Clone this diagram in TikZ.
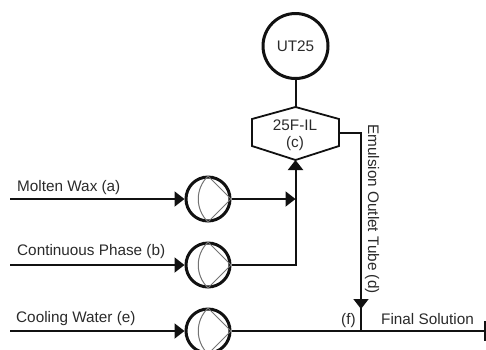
\documentclass[tikz,border=0pt]{standalone}
\usepackage{fontspec}
\setmainfont{Liberation Sans}
\usetikzlibrary{arrows.meta}
\definecolor{ink}{HTML}{111111}
\definecolor{txt}{HTML}{2A2A2A}
\tikzset{
  x=1pt,y=-1pt,
  flow/.style={line width=2pt,draw=ink},
  thin flow/.style={line width=1.6pt,draw=ink},
  head/.style={-{Triangle[length=10pt,width=15pt]}},
  pumpbody/.style={circle,draw=ink,line width=3pt,minimum size=44pt,inner sep=0pt},
  vessel/.style={circle,draw=ink,line width=3pt,minimum size=65pt,inner sep=0pt},
  lbl/.style={font=\fontsize{15.3}{17}\selectfont,text=txt,inner sep=0pt},
  vane/.style={draw=black!55,line width=1pt},
  pics/pumpvanes/.style={code={
    \draw[vane] (0,-23) -- (23,0) -- (0,23);
    \draw[vane] (0,-23) .. controls (-13,-10) and (-13,10) .. (0,23);
  }}
}
\begin{document}
\begin{tikzpicture}
\useasboundingbox (0,0) rectangle (486,349);
\clip (0,0) rectangle (486,349);
\node[vessel] (ut) at (295.5,46) {};
\node[lbl] at (ut.center) {UT25};
\coordinate (hT) at (295.5,107);
\coordinate (hTR) at (339,119);
\coordinate (hBR) at (339,146);
\coordinate (hB) at (295.5,160);
\coordinate (hBL) at (252,146);
\coordinate (hTL) at (252,119);
\draw[line width=1.8pt,draw=ink,line join=miter] (hT) -- (hTR) -- (hBR) -- (hB) -- (hBL) -- (hTL) -- cycle;
\node[lbl] (hexa) at (295,125.5) {25F-IL};
\node[lbl] (hexc) at (295,144) {(c)};
\draw[flow] (ut.south) -- (hT);
\node[pumpbody] (p1) at (208,199) {};
\node[pumpbody] (p2) at (208,265) {};
\node[pumpbody] (p3) at (208,331) {};
\pic at (p1.center) {pumpvanes};
\pic at (p2.center) {pumpvanes};
\pic at (p3.center) {pumpvanes};
\coordinate (s1) at (10,199);
\coordinate (s2) at (10,265);
\coordinate (s3) at (10,331);
\coordinate (j1) at (295.5,199);
\coordinate (j2) at (295.5,265);
\coordinate (out) at (339,133);
\coordinate (bend) at (361,133);
\coordinate (f) at (361,331);
\coordinate (e) at (487,331);
\draw[flow,head] (s1) -- (p1.west);
\draw[flow,head] (s2) -- (p2.west);
\draw[flow,head] (s3) -- (p3.west);
\draw[flow,head] (p1.east) -- (j1);
\draw[flow] (p2.east) -- (j2) -- (j1);
\draw[flow,head] (j1) -- (hB);
\draw[thin flow] (out) -- (bend) -- (f);
\draw[thin flow,head] (bend) -- (361,309);
\draw[thin flow] (p3.east) -- (e);
\draw[line width=2.5pt,draw=ink] (485,321) -- (485,341);
\node[lbl,anchor=base west] at (17,191) {Molten Wax (a)};
\node[lbl,anchor=base west] at (17,255) {Continuous Phase (b)};
\node[lbl,anchor=base west] at (16,322) {Cooling Water (e)};
\node[lbl,anchor=base west] at (381,324) {Final Solution};
\node[lbl,anchor=base west] at (341,324) {(f)};
\node[lbl,anchor=base west,rotate=-90] at (368,124) {Emulsion Outlet Tube (d)};
\end{tikzpicture}
\end{document}
